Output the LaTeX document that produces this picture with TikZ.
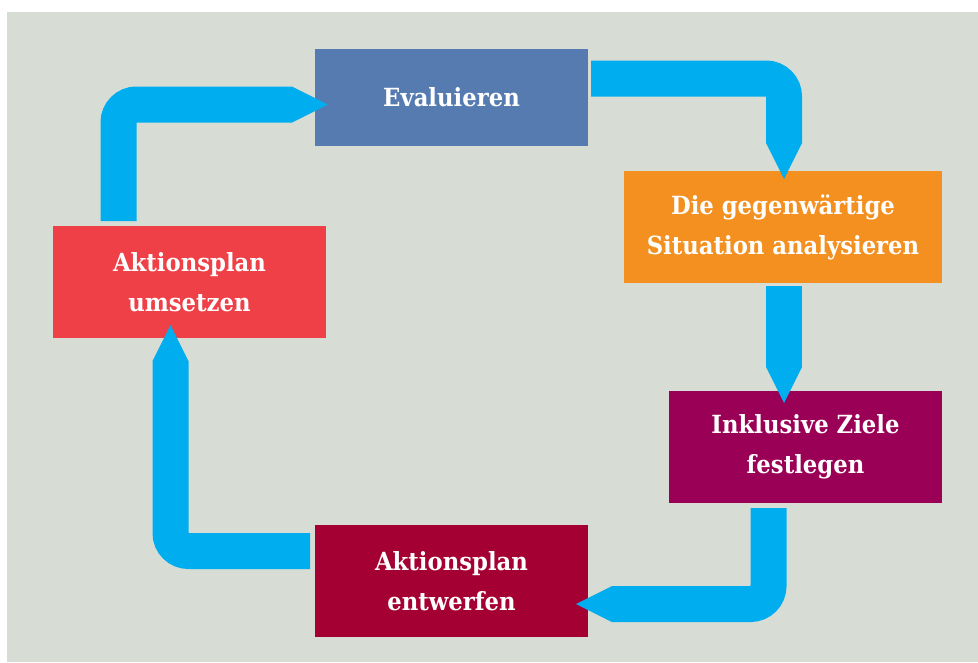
\documentclass[tikz,border=0pt]{standalone}
\usepackage{fontspec}
\setmainfont{DejaVu Serif}[FakeStretch=0.91]
\usetikzlibrary{calc}
\definecolor{bgc}{HTML}{D7DCD5}
\definecolor{cEval}{HTML}{557BB0}
\definecolor{cSit}{HTML}{F39020}
\definecolor{cZiele}{HTML}{9A0056}
\definecolor{cEntw}{HTML}{A50034}
\definecolor{cUms}{HTML}{EE4046}
\definecolor{cArrow}{HTML}{00AEEF}
\tikzset{
  box/.style={inner sep=0pt, outer sep=0pt, minimum height=112pt, minimum width=273pt,
    text=white, align=center, font=\fontsize{25}{40}\selectfont\bfseries},
  shaft/.style={draw=cArrow, line width=36pt, line cap=butt, rounded corners=18pt},
  head/.style={fill=cArrow},
}
\begin{document}
\begin{tikzpicture}[x=1pt,y=-1pt]
\useasboundingbox (0,0) rectangle (978,662);
\fill[white] (0,0) rectangle (978,662);
\fill[bgc] (7,12) rectangle (978,662);

\node[box, fill=cEval, minimum height=97pt] (eval) at (451.5,97.5) {\raisebox{2pt}{Evaluieren}};
\node[box, fill=cSit, minimum width=318pt] (sit) at (783,227) {Die gegenwärtige\\Situation analysieren};
\node[box, fill=cZiele] (ziele) at (805.5,447) {Inklusive Ziele\\festlegen};
\node[box, fill=cEntw] (entw) at (451.5,581) {Aktionsplan\\entwerfen};
\node[box, fill=cUms] (ums) at (189.5,282) {Aktionsplan\\umsetzen};

% arrow 1: ums -> eval
\coordinate (a1s) at ($(ums.north west)+(65.5,-5)$);
\coordinate (a1t) at ($(eval.west)+(13,7)$);
\coordinate (a1b) at ($(a1t)+(-36,0)$);
\draw[shaft] (a1s) |- (a1b);
\fill[head] ($(a1b)+(0,-18)$) -- (a1t) -- ($(a1b)+(0,18)$) -- cycle;

% arrow 2: eval -> sit
\coordinate (a2s) at ($(eval.east)+(3,-19)$);
\coordinate (a2t) at ($(sit.north)+(1,8)$);
\coordinate (a2b) at ($(a2t)+(0,-36)$);
\draw[shaft] (a2s) -| (a2b);
\fill[head] ($(a2b)+(-18,0)$) -- (a2t) -- ($(a2b)+(18,0)$) -- cycle;

% arrow 3: sit -> ziele
\coordinate (a3s) at ($(sit.south)+(1,3)$);
\coordinate (a3t) at ($(ziele.north)+(-21.5,12)$);
\coordinate (a3b) at ($(a3t)+(0,-36)$);
\draw[shaft] (a3s) -- (a3b);
\fill[head] ($(a3b)+(-18,0)$) -- (a3t) -- ($(a3b)+(18,0)$) -- cycle;

% arrow 4: ziele -> entw
\coordinate (a4s) at ($(ziele.south)+(-37,5)$);
\coordinate (a4t) at ($(entw.east)+(-12,23)$);
\coordinate (a4b) at ($(a4t)+(36,0)$);
\draw[shaft] (a4s) |- (a4b);
\fill[head] ($(a4b)+(0,-18)$) -- (a4t) -- ($(a4b)+(0,18)$) -- cycle;

% arrow 5: entw -> ums
\coordinate (a5s) at ($(entw.west)+(-5,-30)$);
\coordinate (a5t) at ($(ums.south)+(-19,-13)$);
\coordinate (a5b) at ($(a5t)+(0,36)$);
\draw[shaft] (a5s) -| (a5b);
\fill[head] ($(a5b)+(-18,0)$) -- (a5t) -- ($(a5b)+(18,0)$) -- cycle;
\end{tikzpicture}
\end{document}
